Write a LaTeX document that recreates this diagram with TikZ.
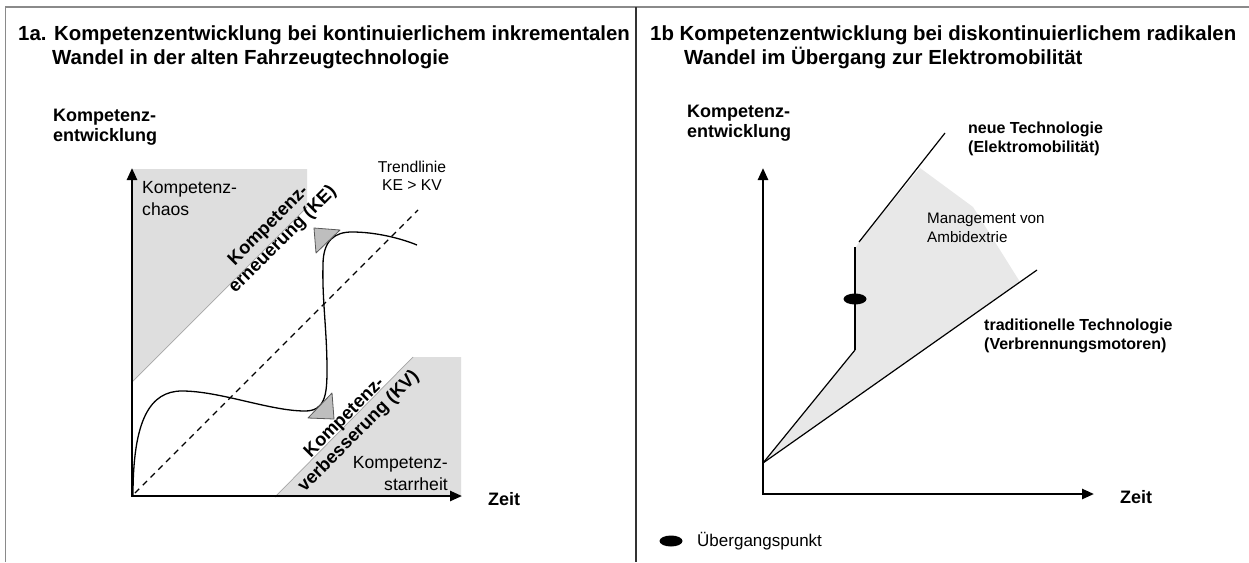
\documentclass[tikz,border=0pt]{standalone}
\usepackage{fontspec}
\setmainfont{Liberation Sans}
\usetikzlibrary{arrows.meta,shapes.geometric}
\definecolor{regiongray}{HTML}{DEDEDE}
\definecolor{ambigray}{HTML}{E8E8E8}
\definecolor{trigray}{HTML}{BEBEBE}
\definecolor{framegray}{HTML}{8A8A8A}
\tikzset{
  frame/.style={draw=framegray, line width=1.5pt},
  divider/.style={draw=black!80, line width=1.5pt},
  titletext/.style={anchor=base west, inner sep=0pt, font=\fontsize{20.4}{24}\selectfont\bfseries},
  axislabel/.style={anchor=west, inner sep=0pt, align=left, font=\fontsize{18}{20}\selectfont\bfseries},
  zeitlabel/.style={anchor=west, inner sep=0pt, font=\fontsize{18}{20}\selectfont\bfseries},
  regionlabel/.style={inner sep=0pt, font=\fontsize{17.6}{22}\selectfont},
  rotlabel/.style={inner sep=0pt, align=center, rotate=45, font=\fontsize{18.3}{20}\selectfont\bfseries},
  smalllabel/.style={inner sep=0pt, align=center, font=\fontsize{15.7}{18}\selectfont},
  techlabel/.style={anchor=west, inner sep=0pt, align=left, font=\fontsize{16}{19}\selectfont\bfseries},
  mgmtlabel/.style={anchor=west, inner sep=0pt, align=left, font=\fontsize{15.2}{19}\selectfont},
  axis/.style={line width=2.5pt, {Triangle[length=12pt,width=10pt]}-{Triangle[length=12pt,width=10pt]}},
  curve/.style={line width=1.3pt},
  trend/.style={line width=1.3pt, dash pattern=on 6pt off 5pt},
  triangle/.style={fill=trigray, draw=black!65, line width=0.8pt, line join=round},
  regionedge/.style={draw=black!35, line width=0.7pt},
  techline/.style={line width=1.2pt},
  marker/.style={ellipse, fill=black, inner sep=0pt, minimum width=23pt, minimum height=11pt}
}
\begin{document}
\begin{tikzpicture}[x=1pt,y=-1pt]
\useasboundingbox (0,0) rectangle (1249,562);
\fill[white] (0,0) rectangle (1249,562);

% frame
\coordinate (TL) at (5.5,7);
\coordinate (TR) at (1249,7);
\coordinate (BL) at (5.5,562);
\coordinate (DT) at (636,7);
\coordinate (DB) at (636,562);
\draw[frame] (BL) -- (TL) -- (TR);
\draw[divider] (DT) -- (DB);

% ---------------- left panel ----------------
\node[titletext] (t1a) at (18,40) {1a. Kompetenzentwicklung bei kontinuierlichem inkrementalen};
\node[titletext] (t1b) at (52,64) {Wandel in der alten Fahrzeugtechnologie};
\node[axislabel] (ylabA) at (53,127) {Kompetenz-\\entwicklung};

% regions
\fill[regiongray] (132,169) -- (307,169) -- (307,207) -- (132,382) -- cycle;
\draw[regionedge] (132,382) -- (307,207);
\fill[regiongray] (275,497) -- (413,357) -- (461,357) -- (461,497) -- cycle;
\draw[regionedge] (275,497) -- (413,357);

% trend line
\coordinate (TrA) at (135,493);
\coordinate (TrB) at (418,210);
\draw[trend] (TrA) -- (TrB);

% curve
\draw[curve] (133,495) .. controls (133,420) and (150,391) .. (182,391)
  .. controls (220,391) and (270,411) .. (305,411)
  .. controls (325,411) and (327,395) .. (327,370)
  .. controls (327,330) and (322,300) .. (323,265)
  .. controls (323,240) and (335,232) .. (352,232)
  .. controls (375,232) and (400,238) .. (417,245);

% triangles
\draw[triangle] (314,228) -- (340,230) -- (316,253) -- cycle;
\draw[triangle] (332,393) -- (334,419) -- (308,418) -- cycle;

% axes
\coordinate (YA) at (132,168);
\coordinate (OA) at (132,496);
\coordinate (XA) at (462,496);
\draw[axis] (YA) -- (OA) -- (XA);
\node[zeitlabel] (zeitA) at (488,499) {Zeit};

% labels
\node[regionlabel, anchor=west, align=left] (chaos) at (142,199) {Kompetenz-\\chaos};
\node[regionlabel, anchor=east, align=right] (starr) at (448,474) {Kompetenz-\\starrheit};
\node[smalllabel] (trendlab) at (412,176) {Trendlinie\\KE > KV};
\node[rotlabel] (KE) at (276,233) {Kompetenz-\\erneuerung (KE)};
\node[rotlabel] (KV) at (352,425) {Kompetenz-\\verbesserung (KV)};

% ---------------- right panel ----------------
\node[titletext] (t2a) at (650,40) {1b Kompetenzentwicklung bei diskontinuierlichem radikalen};
\node[titletext] (t2b) at (684,64) {Wandel im Übergang zur Elektromobilität};
\node[axislabel] (ylabB) at (687,123) {Kompetenz-\\entwicklung};

\coordinate (S) at (763,463);
\coordinate (K) at (855,350);
\coordinate (V) at (855,247);
\coordinate (N1) at (859,242);
\coordinate (N2) at (945,133);
\coordinate (T2) at (1037,270);

\fill[ambigray] (S) -- (K) -- (856,247) -- (N1) -- (920,168) -- (973,207) -- (1020,282) -- cycle;
\draw[techline] (S) -- (K);
\draw[line width=2pt] (K) -- (V);
\draw[techline] (N1) -- (N2);
\draw[techline] (S) -- (T2);
\node[marker] (tp) at (855,299) {};

\coordinate (YB) at (763,168);
\coordinate (OB) at (763,494);
\coordinate (XB) at (1094,494);
\draw[axis] (YB) -- (OB) -- (XB);
\node[zeitlabel] (zeitB) at (1120,497) {Zeit};

\node[techlabel] (neu) at (968,139) {neue Technologie\\(Elektromobilität)};
\node[mgmtlabel] (mgmt) at (927,228) {Management von\\Ambidextrie};
\node[techlabel] (trad) at (984,336) {traditionelle Technologie\\(Verbrennungsmotoren)};

\node[marker] (legmark) at (671,541) {};
\node[anchor=west, inner sep=0pt, font=\fontsize{17}{20}\selectfont] (leg) at (697,541) {Übergangspunkt};
\end{tikzpicture}
\end{document}
